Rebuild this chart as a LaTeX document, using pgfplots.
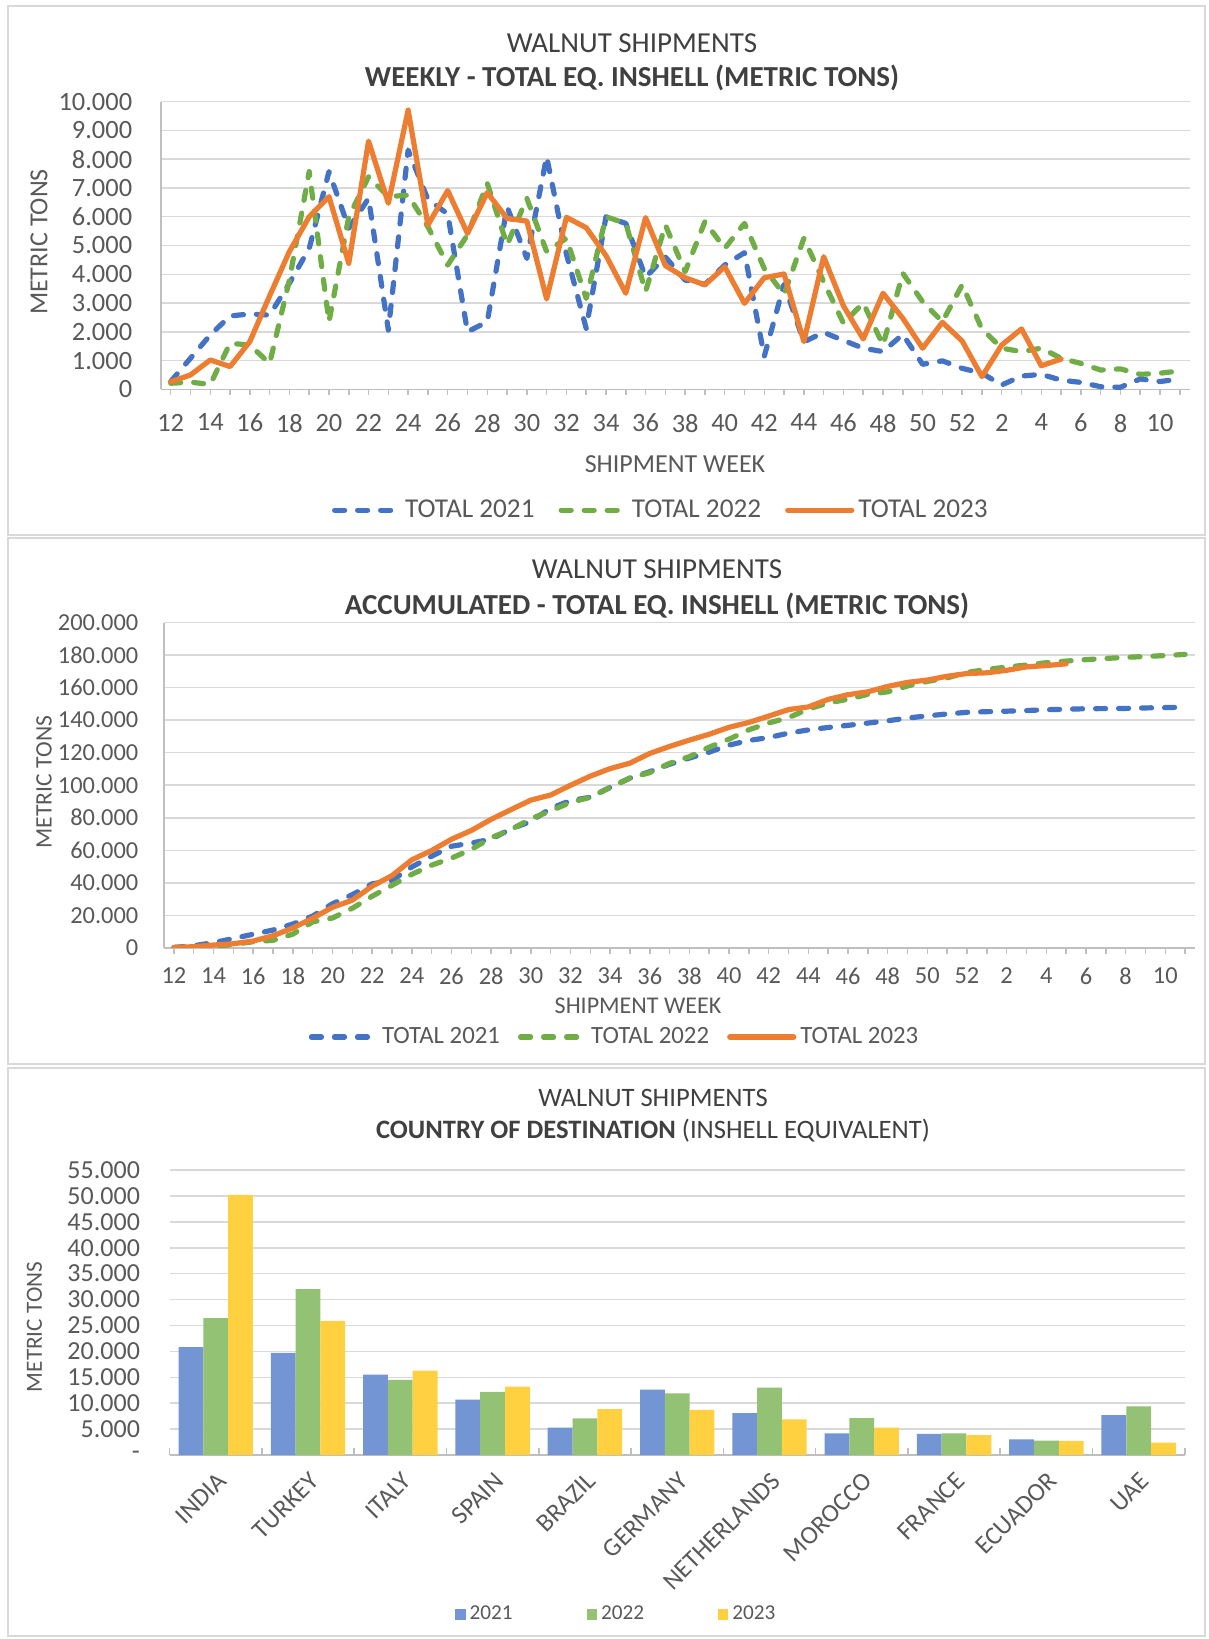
\documentclass[border=0pt]{standalone}
\usepackage{pgfplots}
\pgfplotsset{compat=1.18}
\usepackage{fontspec}
\setmainfont{Carlito}
\definecolor{c21}{HTML}{4472C4}
\definecolor{c22}{HTML}{70AD47}
\definecolor{c23}{HTML}{ED7D31}
\definecolor{b21}{RGB}{115,149,211}
\definecolor{b22}{RGB}{148,194,117}
\definecolor{b23}{RGB}{255,208,64}
\definecolor{txt}{HTML}{595959}
\definecolor{ttl}{HTML}{404040}
\definecolor{gridc}{RGB}{217,217,217}
\definecolor{axl}{RGB}{191,191,191}
\pgfplotsset{
  excel/.style={
    scale only axis, anchor=south west, ymin=0,
    scaled y ticks=false,
    axis x line*=bottom, axis y line*=left,
    axis line style={axl, line width=0.75pt},
    ymajorgrids, grid style={gridc, line width=0.75pt},
    ytick style={draw=none},
    xtick style={axl, line width=0.75pt},
  },
  ln/.style={line width=2.6pt, line join=round, line cap=round, mark=none},
  dsh/.style={dash pattern=on 5pt off 6.5pt},
}
\begin{document}
\begin{tikzpicture}
\useasboundingbox (0,0) rectangle (604.5pt,-819.5pt);
\fill[white] (0,0) rectangle (604.5pt,-819.5pt);
\draw[gridc, line width=0.75pt] (4pt,-3pt) rectangle (602.5pt,-267.5pt);
\draw[gridc, line width=0.75pt] (4pt,-269pt) rectangle (602.5pt,-532pt);
\draw[gridc, line width=0.75pt] (4pt,-534pt) rectangle (602.5pt,-818pt);

% ---------------- Chart 1: weekly
\begin{axis}[excel,
  at={(80.4pt,-194.65pt)}, width=514.45pt, height=143.8pt,
  xmin=-0.5, xmax=51.5, ymax=10000,
  xtick={0,...,51},
  xticklabels={12,{},14,{},16,{},18,{},20,{},22,{},24,{},26,{},28,{},30,{},32,{},34,{},36,{},38,{},40,{},42,{},44,{},46,{},48,{},50,{},52,{},2,{},4,{},6,{},8,{},10,{}},
  ytick={0,1000,...,10000},
  yticklabels={0,1.000,2.000,3.000,4.000,5.000,6.000,7.000,8.000,9.000,10.000},
  tick align=outside, major tick length=2.8pt,
  tick label style={font=\fontsize{13.2}{15}\selectfont, text=txt},
  yticklabel style={xshift=-8pt},
  xticklabel style={yshift=-6pt},
  legend columns=3,
  legend image code/.code={\draw[#1] (0pt,0pt) -- (32pt,0pt);},
  legend style={at={(axis description cs:0.487,-0.42)}, anchor=center, draw=none, fill=none,
    font=\fontsize{13.6}{15}\selectfont, text=txt,
    /tikz/every even column/.append style={column sep=10pt}},
]
\addplot[c21, ln, dsh] coordinates {(0,270)(1,1080)(2,1890)(3,2550)(4,2620)(5,2580)(6,3690)(7,4900)(8,7570)(9,5600)(10,6640)(11,2060)(12,8320)(13,6600)(14,6100)(15,2000)(16,2350)(17,6350)(18,4550)(19,8090)(20,4700)(21,2120)(22,6000)(23,5770)(24,3900)(25,4600)(26,3800)(27,3650)(28,4320)(29,4750)(30,1150)(31,3650)(32,1650)(33,1980)(34,1700)(35,1430)(36,1310)(37,1910)(38,870)(39,990)(40,730)(41,560)(42,150)(43,460)(44,520)(45,320)(46,240)(47,90)(48,70)(49,360)(50,270)(51,360)};
\addlegendentry{TOTAL 2021}
\addplot[c22, ln, dsh] coordinates {(0,210)(1,250)(2,170)(3,1600)(4,1540)(5,900)(6,3800)(7,7570)(8,2350)(9,6000)(10,7390)(11,6700)(12,6750)(13,5650)(14,4320)(15,5370)(16,7160)(17,5020)(18,6640)(19,4790)(20,5250)(21,3160)(22,6000)(23,5770)(24,3400)(25,5710)(26,4090)(27,5830)(28,4900)(29,5770)(30,4200)(31,3300)(32,5250)(33,3740)(34,2300)(35,3000)(36,1540)(37,4030)(38,3050)(39,2350)(40,3630)(41,2100)(42,1430)(43,1310)(44,1430)(45,1080)(46,900)(47,670)(48,710)(49,520)(50,560)(51,640)};
\addlegendentry{TOTAL 2022}
\addplot[c23, ln] coordinates {(0,260)(1,500)(2,1020)(3,790)(4,1660)(5,3250)(6,4790)(7,6000)(8,6700)(9,4380)(10,8630)(11,6470)(12,9710)(13,5710)(14,6910)(15,5420)(16,6840)(17,5940)(18,5850)(19,3140)(20,5980)(21,5620)(22,4650)(23,3340)(24,5970)(25,4300)(26,3880)(27,3630)(28,4260)(29,2990)(30,3880)(31,4010)(32,1660)(33,4610)(34,2900)(35,1750)(36,3340)(37,2470)(38,1430)(39,2330)(40,1680)(41,440)(42,1540)(43,2100)(44,820)(45,1050)};
\addlegendentry{TOTAL 2023}
\end{axis}
\node[font=\fontsize{14.5}{17}\selectfont, text=ttl] at (316pt,-21.5pt) {WALNUT SHIPMENTS};
\node[font=\fontsize{14.5}{17}\selectfont\bfseries, text=ttl] at (316pt,-39pt) {WEEKLY - TOTAL EQ. INSHELL (METRIC TONS)};
\node[font=\fontsize{13}{15}\selectfont, text=txt, rotate=90] at (19.5pt,-121pt) {METRIC TONS};
\node[font=\fontsize{13}{15}\selectfont, text=txt] at (337.5pt,-232pt) {SHIPMENT WEEK};

% ---------------- Chart 2: accumulated
\begin{axis}[excel,
  at={(82pt,-473.95pt)}, width=515.5pt, height=162.7pt,
  xmin=-0.5, xmax=51.5, ymax=200000,
  xtick={0,...,51},
  xticklabels={12,{},14,{},16,{},18,{},20,{},22,{},24,{},26,{},28,{},30,{},32,{},34,{},36,{},38,{},40,{},42,{},44,{},46,{},48,{},50,{},52,{},2,{},4,{},6,{},8,{},10,{}},
  ytick={0,20000,...,200000},
  yticklabels={0,20.000,40.000,60.000,80.000,100.000,120.000,140.000,160.000,180.000,200.000},
  tick align=outside, major tick length=2.8pt,
  tick label style={font=\fontsize{12.2}{14}\selectfont, text=txt},
  yticklabel style={xshift=-6.5pt},
  xticklabel style={yshift=-3.7pt},
  legend columns=3,
  legend image code/.code={\draw[#1] (0pt,0pt) -- (32pt,0pt);},
  legend style={at={(axis description cs:0.438,-0.274)}, anchor=center, draw=none, fill=none,
    font=\fontsize{12.4}{14}\selectfont, text=txt,
    /tikz/every even column/.append style={column sep=7pt}},
]
\addplot[c21, ln, dsh] coordinates {(0,270)(1,1350)(2,3240)(3,5790)(4,8410)(5,10990)(6,14680)(7,19580)(8,27150)(9,32750)(10,39390)(11,41450)(12,49770)(13,56370)(14,62470)(15,64470)(16,66820)(17,73170)(18,77720)(19,85810)(20,90510)(21,92630)(22,98630)(23,104400)(24,108300)(25,112900)(26,116700)(27,120350)(28,124650)(29,127500)(30,129300)(31,132000)(32,134000)(33,135500)(34,136800)(35,138200)(36,139600)(37,141300)(38,142600)(39,143800)(40,144800)(41,145200)(42,145500)(43,145900)(44,146400)(45,146700)(46,147000)(47,147100)(48,147200)(49,147500)(50,147700)(51,148000)};
\addlegendentry{TOTAL 2021}
\addplot[c22, ln, dsh] coordinates {(0,210)(1,460)(2,630)(3,2230)(4,3770)(5,4670)(6,8470)(7,16040)(8,18390)(9,24390)(10,31780)(11,38480)(12,45230)(13,50880)(14,55200)(15,60570)(16,67730)(17,72750)(18,79390)(19,84180)(20,89430)(21,92590)(22,98590)(23,104360)(24,107760)(25,113470)(26,117560)(27,123390)(28,128290)(29,134060)(30,138260)(31,141560)(32,146810)(33,150550)(34,152850)(35,155850)(36,157390)(37,161000)(38,163800)(39,166000)(40,169300)(41,171200)(42,172600)(43,173900)(44,175300)(45,176300)(46,177200)(47,177900)(48,178600)(49,179100)(50,179700)(51,180400)};
\addlegendentry{TOTAL 2022}
\addplot[c23, ln] coordinates {(0,260)(1,760)(2,1780)(3,2570)(4,4230)(5,7480)(6,12270)(7,18270)(8,24970)(9,29350)(10,37980)(11,44450)(12,54160)(13,59870)(14,66780)(15,72200)(16,79040)(17,84980)(18,90830)(19,93970)(20,99950)(21,105570)(22,110220)(23,113560)(24,119530)(25,123830)(26,127710)(27,131340)(28,135600)(29,138590)(30,142470)(31,146480)(32,148140)(33,152750)(34,155650)(35,157400)(36,160740)(37,163210)(38,164640)(39,166970)(40,168650)(41,169090)(42,170630)(43,172730)(44,173550)(45,174600)};
\addlegendentry{TOTAL 2023}
\end{axis}
\node[font=\fontsize{14.5}{17}\selectfont, text=ttl] at (328.5pt,-284.75pt) {WALNUT SHIPMENTS};
\node[font=\fontsize{14.5}{17}\selectfont\bfseries, text=ttl] at (328.5pt,-303pt) {ACCUMULATED - TOTAL EQ. INSHELL (METRIC TONS)};
\node[font=\fontsize{11.8}{14}\selectfont, text=txt, rotate=90] at (22pt,-391pt) {METRIC TONS};
\node[font=\fontsize{12}{14}\selectfont, text=txt] at (319pt,-503pt) {SHIPMENT WEEK};

% ---------------- Chart 3: bars
\begin{axis}[excel,
  at={(84.8pt,-727.5pt)}, width=507.6pt, height=142.5pt,
  xmin=-0.5, xmax=10.5, ymax=55000,
  y axis line style={draw=none},
  ybar=0pt, bar width=12.4pt,
  xtick={0,...,10},
  xticklabels={INDIA,TURKEY,ITALY,SPAIN,BRAZIL,GERMANY,NETHERLANDS,MOROCCO,FRANCE,ECUADOR,UAE},
  minor xtick={-0.5,0.5,...,10.5},
  tick align=inside, major tick length=0pt, minor tick length=3.5pt,
  minor tick style={axl, line width=0.75pt},
  ytick={0,5000,...,55000},
  yticklabels={-,5.000,10.000,15.000,20.000,25.000,30.000,35.000,40.000,45.000,50.000,55.000},
  tick label style={font=\fontsize{13}{15}\selectfont, text=txt},
  yticklabel style={xshift=-11.3pt},
  xticklabel style={rotate=45, anchor=east, font=\fontsize{12.8}{15}\selectfont, xshift=-2pt, yshift=-10pt},
  legend columns=3,
  legend image code/.code={\draw[#1, draw=none] (0pt,-2.6pt) rectangle (5.2pt,2.6pt);},
  legend style={at={(axis description cs:0.441,-0.56)}, anchor=center, draw=none, fill=none,
    font=\fontsize{10.6}{12}\selectfont, text=txt,
    /tikz/every even column/.append style={column sep=35pt}},
]
\addplot[fill=b21, draw=none] coordinates {(0,20800)(1,19700)(2,15500)(3,10700)(4,5300)(5,12600)(6,8100)(7,4200)(8,4100)(9,3000)(10,7700)};
\addlegendentry{2021}
\addplot[fill=b22, draw=none] coordinates {(0,26400)(1,32000)(2,14500)(3,12200)(4,7050)(5,11900)(6,13000)(7,7100)(8,4200)(9,2800)(10,9400)};
\addlegendentry{2022}
\addplot[fill=b23, draw=none] coordinates {(0,50200)(1,25900)(2,16300)(3,13200)(4,8850)(5,8700)(6,6900)(7,5300)(8,3850)(9,2750)(10,2400)};
\addlegendentry{2023}
\end{axis}
\node[font=\fontsize{13.3}{16}\selectfont, text=ttl] at (326.5pt,-549pt) {WALNUT SHIPMENTS};
\node[font=\fontsize{13.3}{16}\selectfont, text=ttl] at (326.5pt,-565.5pt) {\textbf{COUNTRY OF DESTINATION} (INSHELL EQUIVALENT)};
\node[font=\fontsize{11.6}{14}\selectfont, text=txt, rotate=90] at (17.25pt,-663.5pt) {METRIC TONS};
\end{tikzpicture}
\end{document}
